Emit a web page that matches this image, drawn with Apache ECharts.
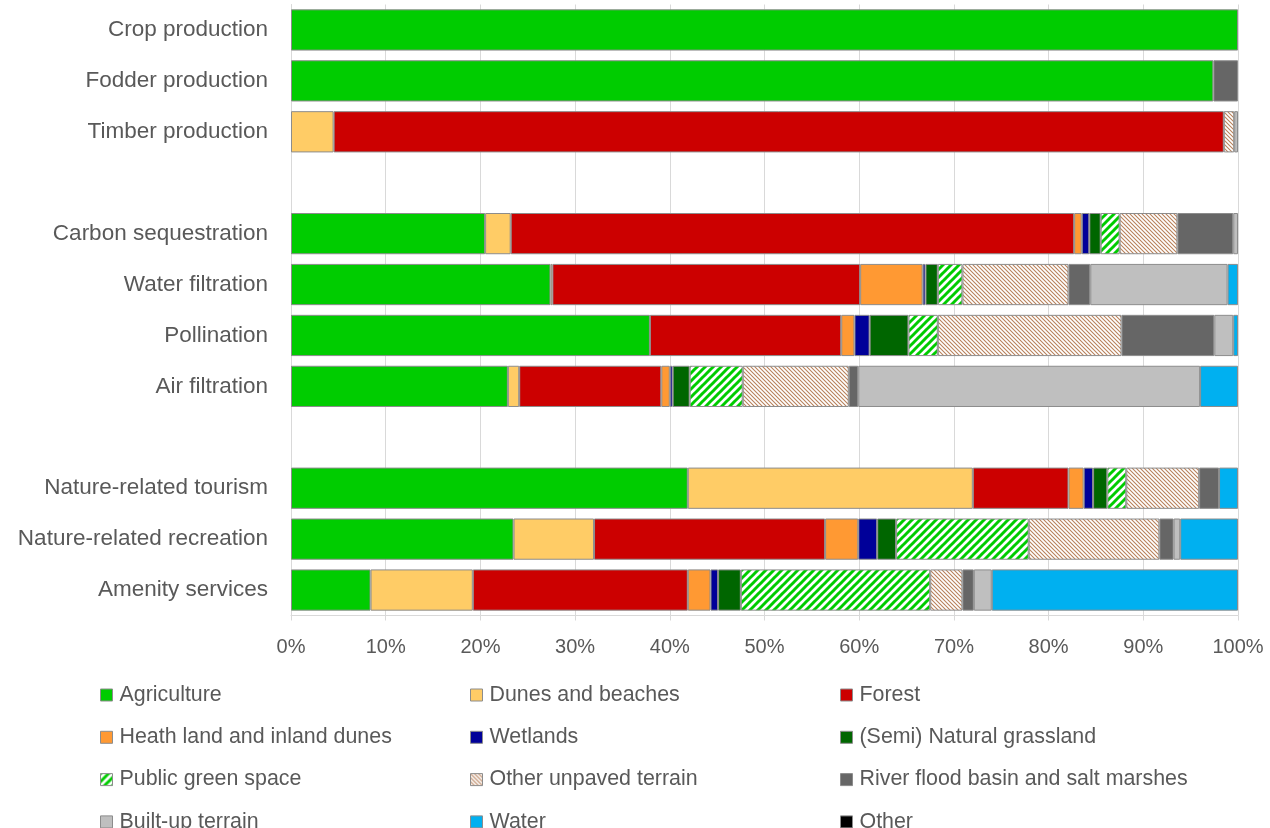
<!DOCTYPE html>
<html>
<head>
<meta charset="utf-8">
<script src="https://cdn.jsdelivr.net/npm/echarts@6/dist/echarts.min.js"></script>
<style>
html,body{margin:0;padding:0;background:#fff;}
#chart{width:1270px;height:828px;}
</style>
</head>
<body>
<div id="chart"></div>
<script>
// Categories (top to bottom); empty strings are the spacer rows
var categories = ['Crop production','Fodder production','Timber production','',
  'Carbon sequestration','Water filtration','Pollination','Air filtration','',
  'Nature-related tourism','Nature-related recreation','Amenity services'];

var tickValues = [0,10,20,30,40,50,60,70,80,90,100];

// Shares (%) per land-use type, aligned with categories
var agriculture   = [100, 97.4, 0,    null, 20.5, 27.4, 37.9, 22.9, null, 41.9, 23.5, 8.4];
var dunesBeaches  = [0,   0,    4.5,  null, 2.7,  0.2,  0,    1.2,  null, 30.1, 8.5,  10.8];
var forest        = [0,   0,    94.0, null, 59.5, 32.5, 20.2, 15.0, null, 10.1, 24.4, 22.7];
var heathLand     = [0,   0,    0,    null, 0.8,  6.6,  1.4,  0.9,  null, 1.6,  3.5,  2.4];
var wetlands      = [0,   0,    0,    null, 0.8,  0.3,  1.6,  0.3,  null, 1.0,  2.0,  0.8];
var grassland     = [0,   0,    0,    null, 1.2,  1.3,  4.1,  1.8,  null, 1.5,  2.0,  2.4];
var publicGreen   = [0,   0,    0,    null, 2.0,  2.6,  3.1,  5.6,  null, 2.0,  14.0, 20.0];
var otherUnpaved  = [0,   0,    1.1,  null, 6.1,  11.2, 19.4, 11.2, null, 7.7,  13.8, 3.4];
var riverFlood    = [0,   2.6,  0,    null, 5.9,  2.3,  9.8,  1.0,  null, 2.1,  1.5,  1.2];
var builtUp       = [0,   0,    0.4,  null, 0.5,  14.5, 2.0,  36.1, null, 0,    0.7,  1.9];
var water         = [0,   0,    0,    null, 0,    1.1,  0.5,  4.0,  null, 2.0,  6.1,  26.0];
var other         = [0,   0,    0,    null, 0,    0,    0,    0,    null, 0,    0,    0];

function stripePattern(size, color, width, dir) {
  var c = document.createElement('canvas');
  c.width = size; c.height = size;
  var ctx = c.getContext('2d');
  ctx.fillStyle = '#ffffff';
  ctx.fillRect(0, 0, size, size);
  ctx.strokeStyle = color;
  ctx.lineWidth = width;
  ctx.lineCap = 'square';
  for (var k = -1; k <= 1; k++) {
    ctx.beginPath();
    if (dir === '/') {
      ctx.moveTo(k * size - 1, size + 1);
      ctx.lineTo(k * size + size + 1, -1);
    } else {
      ctx.moveTo(k * size - 1, -1);
      ctx.lineTo(k * size + size + 1, size + 1);
    }
    ctx.stroke();
  }
  return { image: c, repeat: 'repeat' };
}

var greenStripes = stripePattern(8, '#00CC00', 3.0, '/');
var brownStripes = stripePattern(4, '#B8805A', 1.1, '\\');

var seriesDefs = [
  ['Agriculture', agriculture, '#00CC00'],
  ['Dunes and beaches', dunesBeaches, '#FFCC66'],
  ['Forest', forest, '#CC0000'],
  ['Heath land and inland dunes', heathLand, '#FF9933'],
  ['Wetlands', wetlands, '#000099'],
  ['(Semi) Natural grassland', grassland, '#006600'],
  ['Public green space', publicGreen, greenStripes],
  ['Other unpaved terrain', otherUnpaved, brownStripes],
  ['River flood basin and salt marshes', riverFlood, '#666666'],
  ['Built-up terrain', builtUp, '#BFBFBF'],
  ['Water', water, '#00B0F0'],
  ['Other', other, '#000000']
];

var series = seriesDefs.map(function (d) {
  return {
    name: d[0],
    type: 'bar',
    stack: 'total',
    barCategoryGap: '19%',
    data: d[1].map(function (v) { return (v === null || v === 0) ? '-' : v; }),
    itemStyle: { color: d[2], borderColor: '#8c8c8c', borderWidth: 1 },
    emphasis: { disabled: true }
  };
});

var textColor = '#595959';
var fontFam = '"Liberation Sans", Arial, sans-serif';

function legendCol(names, left) {
  return {
    orient: 'vertical',
    left: left,
    top: 684,
    height: 200,
    padding: 0,
    itemWidth: 12,
    itemHeight: 12,
    itemGap: 20.3,
    icon: 'rect',
    selectedMode: false,
    textStyle: { color: textColor, fontSize: 21.4, lineHeight: 22, fontFamily: fontFam, padding: [0, 0, 0, 2] },
    itemStyle: { borderColor: '#8c8c8c', borderWidth: 1 },
    data: names
  };
}

var option = {
  animation: false,
  backgroundColor: '#ffffff',
  grid: { left: 291, right: 32, top: 4.5, bottom: 212.5, containLabel: false },
  xAxis: {
    type: 'value',
    min: tickValues[0],
    max: tickValues[tickValues.length - 1],
    interval: 10,
    axisLine: { show: true, lineStyle: { color: '#d9d9d9' } },
    axisTick: { show: true, length: 5, lineStyle: { color: '#d9d9d9' } },
    splitLine: { show: true, lineStyle: { color: '#d9d9d9', width: 1 } },
    axisLabel: { formatter: '{value}%', color: textColor, fontSize: 20, fontFamily: fontFam, margin: 22 }
  },
  yAxis: {
    type: 'category',
    inverse: true,
    data: categories,
    axisLine: { show: true, lineStyle: { color: '#d9d9d9' } },
    axisTick: { show: false },
    axisLabel: { color: textColor, fontSize: 22.5, fontFamily: fontFam, margin: 23, padding: [4, 0, 0, 0] }
  },
  legend: [
    legendCol(['Agriculture','Heath land and inland dunes','Public green space','Built-up terrain'], 100),
    legendCol(['Dunes and beaches','Wetlands','Other unpaved terrain','Water'], 470),
    legendCol(['Forest','(Semi) Natural grassland','River flood basin and salt marshes','Other'], 840)
  ],
  series: series
};

var chart = echarts.init(document.getElementById('chart'), null, { renderer: 'canvas' });
chart.setOption(option);
</script>
</body>
</html>
